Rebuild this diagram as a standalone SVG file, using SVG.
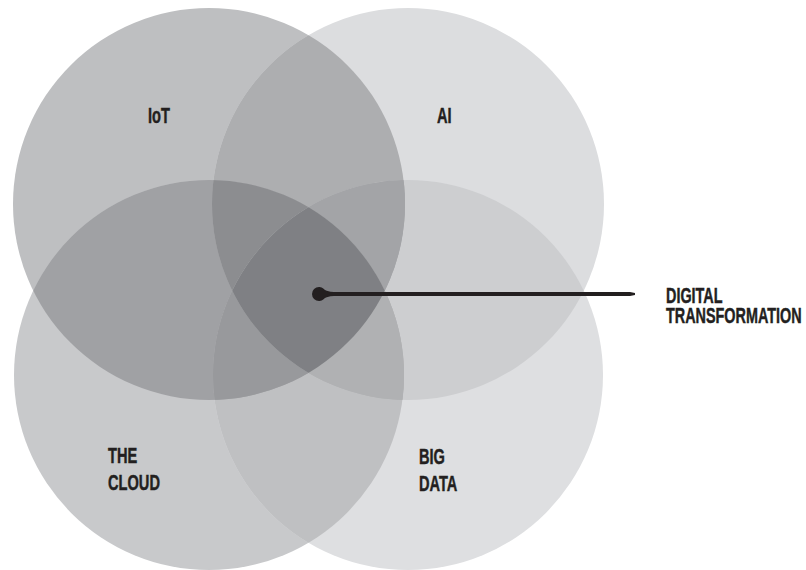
<svg xmlns="http://www.w3.org/2000/svg" width="806" height="570" viewBox="0 0 806 570">
  <style>
    .lbl { font-family: "Liberation Sans", Arial, sans-serif; font-weight: bold; font-size: 21.5px; fill: #231f20; stroke: #231f20; stroke-width: 0.45px; }
    .ink { fill: #231f20; }
  </style>
  <defs>
    <clipPath id="cpIoT"><circle cx="209" cy="204" r="196"/></clipPath>
    <clipPath id="cpAI"><circle cx="408" cy="204" r="196"/></clipPath>
    <clipPath id="cpCloud"><circle cx="209" cy="375" r="195"/></clipPath>
    <clipPath id="cpBig"><circle cx="408" cy="375" r="195"/></clipPath>
  </defs>
  <rect width="806" height="570" fill="#ffffff"/>

  <g id="node-iot">
    <circle cx="209" cy="204" r="196" fill="#bebfc1"/>
  </g>
  <g id="node-ai">
    <circle cx="408" cy="204" r="196" fill="#dcdddf"/>
  </g>
  <g id="node-cloud">
    <circle cx="209" cy="375" r="195" fill="#c8c9cb"/>
  </g>
  <g id="node-bigdata">
    <circle cx="408" cy="375" r="195" fill="#dedfe1"/>
  </g>

  <g id="overlaps">
    <!-- pairs -->
    <g clip-path="url(#cpIoT)"><circle cx="408" cy="204" r="196" fill="#adaeb0"/></g>
    <g clip-path="url(#cpIoT)"><circle cx="209" cy="375" r="195" fill="#a0a1a4"/></g>
    <g clip-path="url(#cpAI)"><circle cx="408" cy="375" r="195" fill="#cdced0"/></g>
    <g clip-path="url(#cpCloud)"><circle cx="408" cy="375" r="195" fill="#bfc0c2"/></g>
    <g clip-path="url(#cpIoT)"><circle cx="408" cy="375" r="195" fill="#a3a4a7"/></g>
    <g clip-path="url(#cpAI)"><circle cx="209" cy="375" r="195" fill="#b0b1b3"/></g>
    <!-- triples -->
    <g clip-path="url(#cpIoT)"><g clip-path="url(#cpAI)"><circle cx="209" cy="375" r="195" fill="#8c8d90"/></g></g>
    <g clip-path="url(#cpIoT)"><g clip-path="url(#cpAI)"><circle cx="408" cy="375" r="195" fill="#a3a4a7"/></g></g>
    <g clip-path="url(#cpIoT)"><g clip-path="url(#cpCloud)"><circle cx="408" cy="375" r="195" fill="#98999c"/></g></g>
    <g clip-path="url(#cpAI)"><g clip-path="url(#cpCloud)"><circle cx="408" cy="375" r="195" fill="#b0b1b3"/></g></g>
    <!-- all four -->
    <g clip-path="url(#cpIoT)"><g clip-path="url(#cpAI)"><g clip-path="url(#cpCloud)"><circle cx="408" cy="375" r="195" fill="#7f8084"/></g></g></g>
  </g>

  <g id="labels">
    <text class="lbl" transform="matrix(0.68 0 0 1 148 123)">IoT</text>
    <text class="lbl" transform="matrix(0.68 0 0 1 437 123)">AI</text>
    <text class="lbl" transform="matrix(0.68 0 0 1 108 463)">THE</text>
    <text class="lbl" transform="matrix(0.68 0 0 1 108 490)">CLOUD</text>
    <text class="lbl" transform="matrix(0.68 0 0 1 419 464)">BIG</text>
    <text class="lbl" transform="matrix(0.68 0 0 1 419 491)">DATA</text>
  </g>

  <g id="connectors">
    <circle class="ink" cx="319" cy="294" r="7"/>
    <path class="ink" d="M319,287 Q327,292 334,292 L630,292 L635,293 L635,295 L630,296 L334,296 Q327,296 319,301 Z"/>
  </g>

  <g id="node-digital-transformation">
    <text class="lbl" transform="matrix(0.67 0 0 1 666 303)">DIGITAL</text>
    <text class="lbl" transform="matrix(0.67 0 0 1 666 323)">TRANSFORMATION</text>
  </g>
</svg>
